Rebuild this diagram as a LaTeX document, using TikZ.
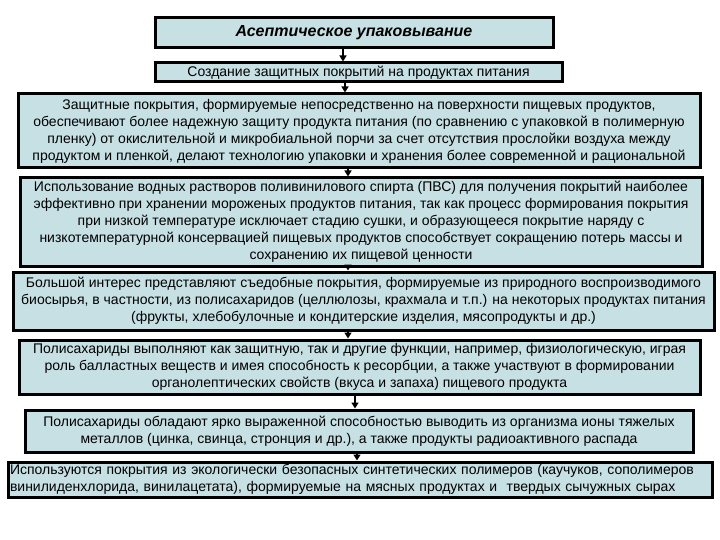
\documentclass[tikz,border=0pt]{standalone}
\usepackage{fontspec}
\setmainfont{Liberation Sans}
\usetikzlibrary{arrows.meta}
\definecolor{boxfill}{RGB}{198,224,228}
\tikzset{
  box/.style={draw=black, line width=3pt, fill=boxfill, inner sep=1pt,
    align=center, font=\fontsize{14}{17}\selectfont, anchor=center},
  arr/.style={line width=1.6pt, -{Triangle[width=7pt,length=6pt]}}
}
\begin{document}
\begin{tikzpicture}[x=1pt,y=-1pt]
\useasboundingbox (0,0) rectangle (720,540);
\node[box, minimum width=398pt, minimum height=30pt, font=\fontsize{16}{18}\selectfont\bfseries\itshape] (b1) at (354,33) {Асептическое упаковывание};
\node[box, minimum width=407pt, minimum height=19pt] (b2) at (358.5,72.5) {Создание защитных покрытий на продуктах питания};
\node[box, minimum width=682pt, minimum height=74pt] (b3) at (359,131) {Защитные покрытия, формируемые непосредственно на поверхности пищевых продуктов,\\обеспечивают более надежную защиту продукта питания (по сравнению с упаковкой в полимерную\\пленку) от окислительной и микробиальной порчи за счет отсутствия прослойки воздуха между\\продуктом и пленкой, делают технологию упаковки и хранения более современной и рациональной};
\node[box, minimum width=682pt, minimum height=88pt] (b4) at (361,222) {Использование водных растворов поливинилового спирта (ПВС) для получения покрытий наиболее\\эффективно при хранении мороженых продуктов питания, так как процесс формирования покрытия\\при низкой температуре исключает стадию сушки, и образующееся покрытие наряду с\\низкотемпературной консервацией пищевых продуктов способствует сокращению потерь массы и\\сохранению их пищевой ценности};
\node[box, minimum width=701pt, minimum height=58pt] (b5) at (363.5,301) {Большой интерес представляют съедобные покрытия, формируемые из природного воспроизводимого\\биосырья, в частности, из полисахаридов (целлюлозы, крахмала и т.п.) на некоторых продуктах питания\\(фрукты, хлебобулочные и кондитерские изделия, мясопродукты и др.)};
\node[box, minimum width=681pt, minimum height=54pt] (b6) at (359.5,367) {Полисахариды выполняют как защитную, так и другие функции, например, физиологическую, играя\\роль балластных веществ и имея способность к ресорбции, а также участвуют в формировании\\органолептических свойств (вкуса и запаха) пищевого продукта};
\node[box, minimum width=668pt, minimum height=42pt] (b7) at (359,431) {Полисахариды обладают ярко выраженной способностью выводить из организма ионы тяжелых\\металлов (цинка, свинца, стронция и др.), а также продукты радиоактивного распада};
\node[box, minimum width=704pt, minimum height=35pt, align=left, text width=700pt] (b8) at (360,479.5) {Используются покрытия из экологически безопасных синтетических полимеров (каучуков, сополимеров\\винилиденхлорида, винилацетата), формируемые на мясных продуктах и\ \ твердых сычужных сырах};
\coordinate (x1) at (343,0);
\coordinate (x2) at (345,0);
\coordinate (x3) at (348,0);
\coordinate (x4) at (348,0);
\coordinate (x5) at (348,0);
\coordinate (x6) at (355,0);
\coordinate (x7) at (357,0);
\draw[arr] (b1.south -| x1) -- (b2.north -| x1);
\draw[arr] (b2.south -| x2) -- (b3.north -| x2);
\draw[arr] (b3.south -| x3) -- (b4.north -| x3);
\draw[arr] (b4.south -| x4) -- (b5.north -| x4);
\draw[arr] (b5.south -| x5) -- (b6.north -| x5);
\draw[arr] (b6.south -| x6) -- (b7.north -| x6);
\draw[arr] (b7.south -| x7) -- (b8.north -| x7);
\end{tikzpicture}
\end{document}
